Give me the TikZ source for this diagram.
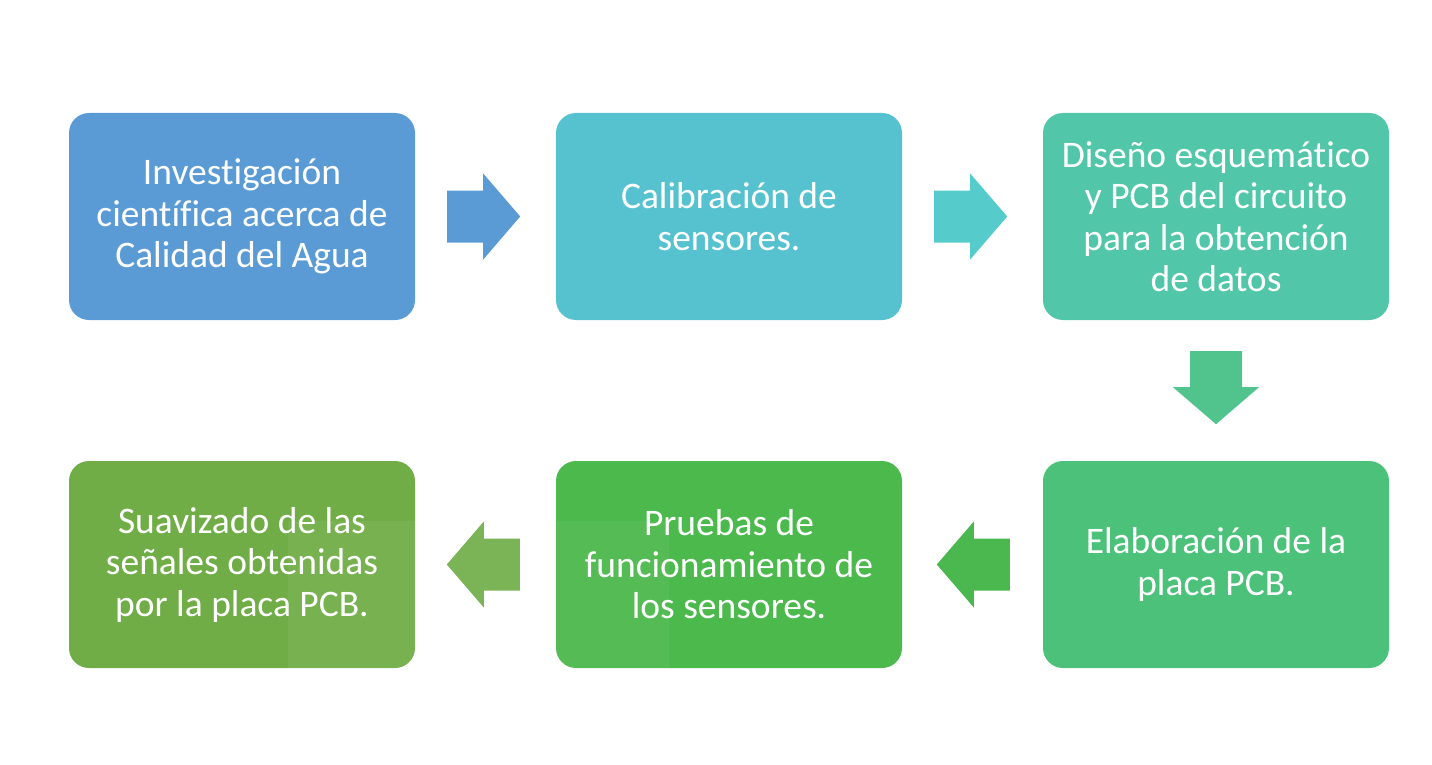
\documentclass[tikz,border=0pt]{standalone}
\usepackage{fontspec}
\setmainfont{Carlito}[Ligatures={NoCommon,NoRequired,NoContextual}]
\definecolor{cA}{HTML}{5B9BD5}
\definecolor{cB}{HTML}{57C2CF}
\definecolor{cBa}{HTML}{55CBCB}
\definecolor{cC}{HTML}{52C6A8}
\definecolor{cCa}{HTML}{50C48C}
\definecolor{cD}{HTML}{4CC17A}
\definecolor{cDa}{HTML}{4AB84E}
\definecolor{cE}{HTML}{4CB94C}
\definecolor{cEa}{HTML}{74AF4E}
\definecolor{cF}{HTML}{70AD47}
\tikzset{
  stepbox/.style={rounded corners=20pt, inner sep=0pt, minimum width=346pt, minimum height=207pt,
    text=white, align=center, font=\fontsize{37.5}{41.5}\selectfont},
  blockarrow/.pic={\fill[pic actions] (0,-26) -- (36,-26) -- (36,-43) -- (73,0) -- (36,43) -- (36,26) -- (0,26) -- cycle;}
}
\begin{document}
\begin{tikzpicture}[x=1pt,y=-1pt]
\useasboundingbox (0,0) rectangle (1432,765);
\node[stepbox, fill=cA] (b1) at (242,216.5) {Investigación\\científica acerca de\\Calidad del Agua};
\node[stepbox, fill=cB] (b2) at (729,216.5) {Calibración de\\sensores.};
\node[stepbox, fill=cC] (b3) at (1216,216.5) {Diseño esquemático\\y PCB del circuito\\para la obtención\\de datos};
\node[stepbox, fill=cD] (b4) at (1216,564.5) {Elaboración de la\\placa PCB.};
\node[stepbox, fill=cE] (b5) at (729,564.5) {Pruebas de\\funcionamiento de\\los sensores.};
\node[stepbox, fill=cF] (b6) at (242,564.5) {Suavizado de las\\señales obtenidas\\por la placa PCB.};
% block arrows
\pic[fill=cA] at ([xshift=32pt]b1.east) {blockarrow};
\pic[fill=cBa] at ([xshift=32pt]b2.east) {blockarrow};
\pic[fill=cCa, rotate=-90] at ([yshift=-31pt]b3.south) {blockarrow};
\pic[fill=cDa, rotate=180] at ([xshift=-33pt]b4.west) {blockarrow};
\pic[fill=cEa, rotate=180] at ([xshift=-36pt]b5.west) {blockarrow};
% faint screenshot overlay
\fill[white, opacity=0.05] (288,521) rectangle (669,765);
\end{tikzpicture}
\end{document}
